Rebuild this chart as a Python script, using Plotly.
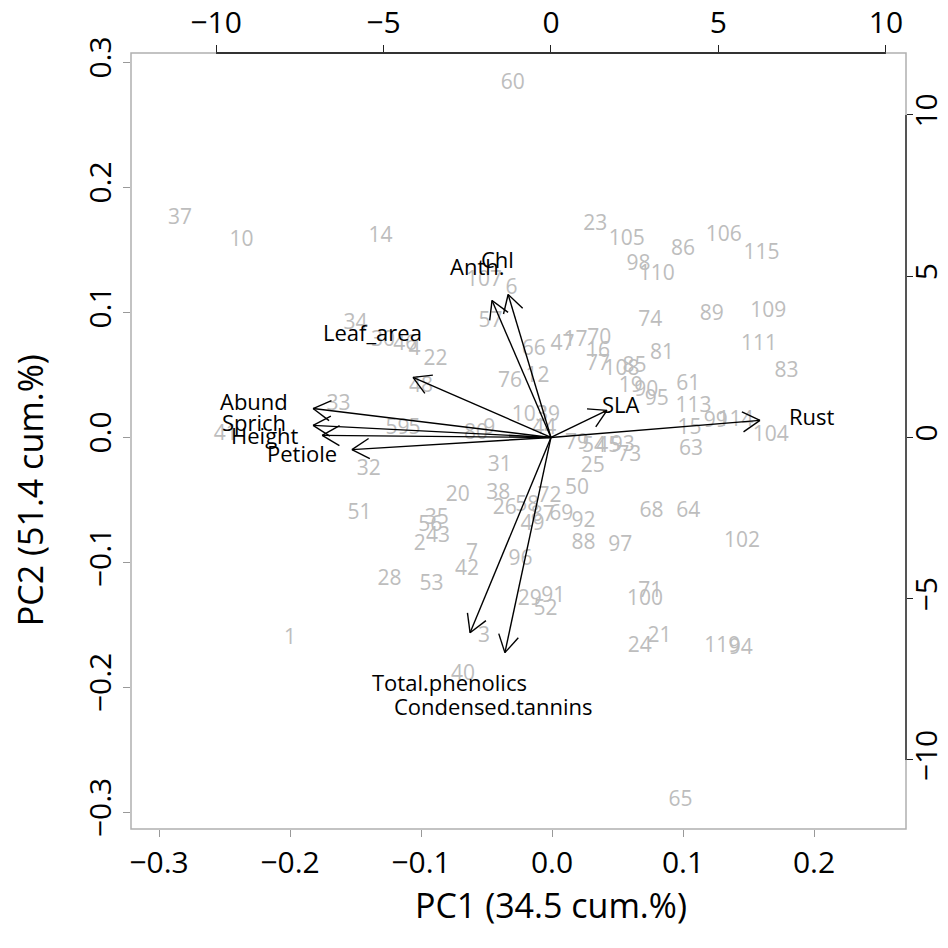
import math
import plotly.graph_objects as go

# ---- observation scores (PC1, PC2) and labels ----
obs_labels = ["37", "10", "14", "34", "30", "46", "4", "22", "48", "57", "107", "6", "66", "47",
              "17", "70", "16", "77", "108", "85", "19", "90", "95", "81", "74", "61", "113", "15",
              "99", "114", "104", "63", "83", "111", "109", "89", "115", "106", "86", "105", "23",
              "98", "110", "60", "76", "12", "103", "39", "44", "59", "5", "80", "9", "31", "79",
              "54", "45", "93", "73", "25", "50", "20", "38", "72", "26", "58", "87", "69", "49",
              "92", "88", "97", "96", "7", "42", "53", "28", "35", "56", "43", "2", "51", "32",
              "33", "41", "1", "3", "40", "29", "91", "52", "100", "71", "21", "24", "119", "94",
              "68", "64", "102", "65"]
pc1 = [-0.284, -0.237, -0.131, -0.150, -0.129, -0.112, -0.105, -0.089, -0.100, -0.047, -0.052,
       -0.031, -0.014, 0.008, 0.018, 0.036, 0.035, 0.035, 0.053, 0.063, 0.060, 0.072, 0.080,
       0.084, 0.075, 0.104, 0.108, 0.105, 0.125, 0.140, 0.167, 0.106, 0.179, 0.158, 0.165,
       0.122, 0.160, 0.131, 0.100, 0.057, 0.033, 0.066, 0.080, -0.030, -0.032, -0.011, -0.017,
       -0.003, -0.006, -0.118, -0.105, -0.058, -0.048, -0.040, 0.019, 0.032, 0.043, 0.054,
       0.059, 0.031, 0.019, -0.072, -0.041, -0.002, -0.036, -0.019, -0.007, 0.007, -0.015,
       0.024, 0.024, 0.052, -0.024, -0.061, -0.065, -0.092, -0.124, -0.088, -0.093, -0.087,
       -0.101, -0.147, -0.140, -0.163, -0.249, -0.200, -0.052, -0.068, -0.017, 0.001, -0.005,
       0.071, 0.075, 0.082, 0.067, 0.130, 0.144, 0.076, 0.104, 0.145, 0.098]
pc2 = [0.175, 0.157, 0.160, 0.091, 0.077, 0.074, 0.070, 0.062, 0.040, 0.092, 0.125, 0.119,
       0.070, 0.074, 0.077, 0.079, 0.068, 0.058, 0.054, 0.056, 0.040, 0.037, 0.030, 0.067,
       0.093, 0.042, 0.024, 0.007, 0.012, 0.013, 0.001, -0.010, 0.052, 0.074, 0.100, 0.098,
       0.147, 0.161, 0.150, 0.158, 0.170, 0.138, 0.130, 0.283, 0.044, 0.048, 0.017, 0.017,
       0.007, 0.007, 0.007, 0.003, 0.007, -0.023, -0.005, -0.008, -0.008, -0.007, -0.015,
       -0.024, -0.041, -0.047, -0.045, -0.048, -0.057, -0.055, -0.063, -0.062, -0.070, -0.068,
       -0.085, -0.087, -0.098, -0.093, -0.106, -0.118, -0.114, -0.065, -0.071, -0.080, -0.086,
       -0.061, -0.026, 0.026, 0.002, -0.161, -0.160, -0.190, -0.130, -0.128, -0.138, -0.130,
       -0.124, -0.160, -0.168, -0.168, -0.169, -0.060, -0.060, -0.084, -0.291]

# ---- variable loadings (top / right axes) ----
var_names = ["Abund", "Sprich", "Height", "Petiole", "Leaf_area", "Anth.", "Chl", "SLA",
             "Rust", "Total.phenolics", "Condensed.tannins"]
load1 = [-8.88, -8.88, -8.54, -7.43, -5.15, -2.20, -1.60, 2.09, 7.80, -3.02, -1.72]
load2 = [1.12, 0.47, 0.08, -0.47, 2.33, 5.31, 5.54, 1.05, 0.66, -7.57, -8.34]

# ---- tick labels and axis titles ----
bottom_ticks = [-0.3, -0.2, -0.1, 0.0, 0.1, 0.2]
bottom_text = ["\u22120.3", "\u22120.2", "\u22120.1", "0.0", "0.1", "0.2"]
left_ticks = [-0.3, -0.2, -0.1, 0.0, 0.1, 0.2, 0.3]
left_text = ["\u22120.3", "\u22120.2", "\u22120.1", "0.0", "0.1", "0.2", "0.3"]
top_ticks = [-10, -5, 0, 5, 10]
top_text = ["\u221210", "\u22125", "0", "5", "10"]
x_title = "PC1 (34.5 cum.%)"
y_title = "PC2 (51.4 cum.%)"

# ---- layout geometry (page body has an 8px margin) ----
W = H = 932
ML, MR, MT, MB = 123, 34, 45, 111
PW, PH = W - ML - MR, H - MT - MB
XR = [-0.3214, 0.2702]
YR = [-0.3136, 0.3072]
X2R = [-12.54, 10.60]
Y2R = [-12.14, 11.92]
SX = PW / (X2R[1] - X2R[0])
SY = PH / (Y2R[1] - Y2R[0])
HEAD = 20  # px
FONT = "Open Sans"

fig = go.Figure()

fig.add_trace(go.Scatter(
    x=pc1, y=pc2, text=obs_labels, mode="text", textposition="middle center",
    textfont=dict(family=FONT, size=21, color="#bdbdbd"), hoverinfo="skip",
    xaxis="x", yaxis="y", showlegend=False))

# arrows at 0.8 * loadings (R biplot convention)
ax_, ay_ = [], []
for u, v in zip(load1, load2):
    tu, tv = 0.8 * u, 0.8 * v
    ax_ += [0, tu, None]
    ay_ += [0, tv, None]
    ang = math.atan2(tv * SY, tu * SX)
    for s in (1, -1):
        a = ang + math.pi + s * math.radians(30)
        ax_ += [tu, tu + HEAD * math.cos(a) / SX, None]
        ay_ += [tv, tv + HEAD * math.sin(a) / SY, None]

fig.add_trace(go.Scatter(
    x=ax_, y=ay_, mode="lines", line=dict(color="black", width=1.4),
    hoverinfo="skip", xaxis="x2", yaxis="y2", showlegend=False))

shifts = {"Leaf_area": (-6, 30)}
for name, u, v in zip(var_names, load1, load2):
    xs, ys = shifts.get(name, (0, 0))
    fig.add_annotation(x=u, y=v, xref="x2", yref="y2", text=name, showarrow=False,
                       xshift=xs, yshift=ys,
                       font=dict(family=FONT, size=22, color="black"))

tickfont = dict(family=FONT, size=30, color="black")
titlefont = dict(family=FONT, size=34, color="black")

# axis titles (placed as in the reference, off-centre)
fig.add_annotation(x=0.542, y=-0.098, xref="paper", yref="paper", text=x_title,
                   showarrow=False, xanchor="center", yanchor="middle", font=titlefont)
fig.add_annotation(x=-0.130, y=0.437, xref="paper", yref="paper", text=y_title,
                   showarrow=False, xanchor="center", yanchor="middle", textangle=-90,
                   font=titlefont)

common = dict(ticks="outside", showgrid=False, zeroline=False, showline=False,
              tickfont=tickfont, automargin=False)
fig.update_layout(
    width=W, height=H, margin=dict(l=ML, r=MR, t=MT, b=MB, autoexpand=False),
    paper_bgcolor="white", plot_bgcolor="white",
    font=dict(family=FONT),
    xaxis=dict(range=XR, tickvals=bottom_ticks, ticktext=bottom_text, tickcolor="#999999",
               ticklen=7, **common),
    yaxis=dict(range=YR, tickvals=left_ticks, ticktext=left_text, tickcolor="#999999",
               ticklen=7, tickangle=-90, **common),
    xaxis2=dict(range=X2R, overlaying="x", side="top", tickvals=top_ticks, ticktext=top_text,
                tickcolor="#222222", ticklen=7, **common),
    yaxis2=dict(range=Y2R, overlaying="y", side="right", tickvals=top_ticks, ticktext=top_text,
                tickcolor="#222222", ticklen=6, tickangle=-90, ticklabelstandoff=-12,
                **common),
    shapes=[
        dict(type="rect", xref="paper", yref="paper", x0=0, x1=1, y0=0, y1=1,
             line=dict(color="#b0b0b0", width=1.5)),
        dict(type="line", xref="x2", yref="paper", x0=-10, x1=10, y0=1, y1=1,
             line=dict(color="#333333", width=2)),
        dict(type="line", xref="paper", yref="y2", x0=1, x1=1, y0=-10, y1=10,
             line=dict(color="#555555", width=2)),
    ],
)

fig.write_html("out.html")
